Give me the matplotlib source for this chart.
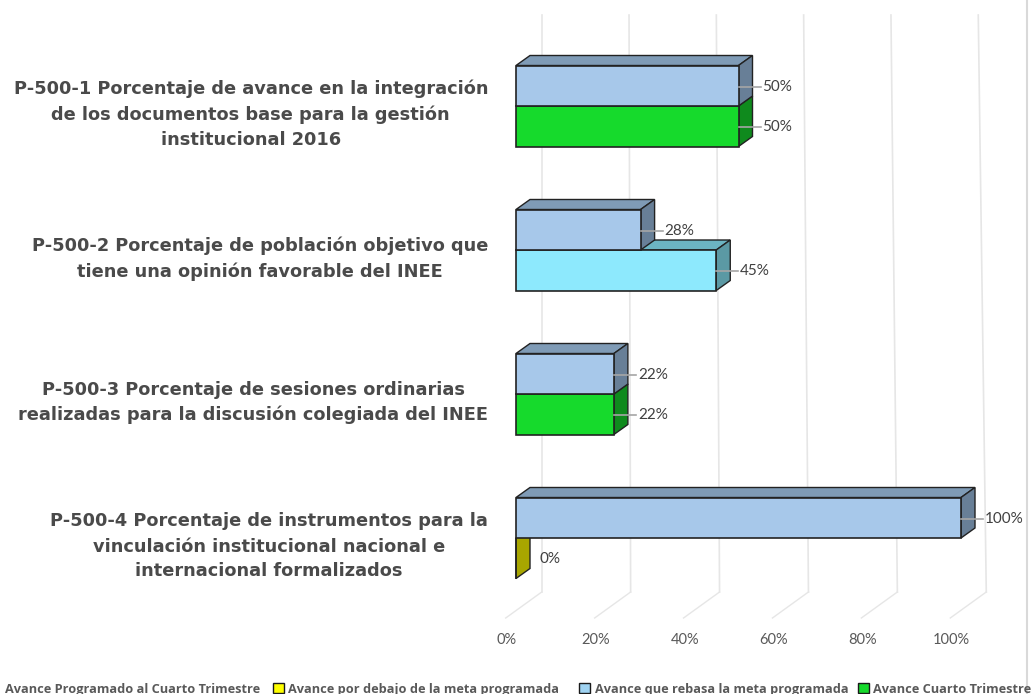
import matplotlib
matplotlib.use("Agg")
import matplotlib.pyplot as plt
from matplotlib.patches import Polygon, Rectangle
from matplotlib.lines import Line2D

# datos
categorias = [
    "P-500-1 Porcentaje de avance en la integración\nde los documentos base para la gestión\ninstitucional 2016",
    "P-500-2 Porcentaje de población objetivo que\ntiene una opinión favorable del INEE",
    "P-500-3 Porcentaje de sesiones ordinarias\nrealizadas para la discusión colegiada del INEE",
    "P-500-4 Porcentaje de instrumentos para la\nvinculación institucional nacional e\ninternacional formalizados",
]
programado = [50, 28, 22, 100]
avance = [50, 45, 22, 0]
ticks = [0, 20, 40, 60, 80, 100]
leyenda = ["Avance Programado al Cuarto Trimestre",
           "Avance por debajo de la meta programada",
           "Avance que rebasa la meta programada",
           "Avance Cuarto Trimestre"]

# colores (frente, arriba, lado)
caras = {
    "prog": ("#A7C8EA", "#7F9BB6", "#687F97"),
    "debajo": ("#FFFF00", "#C8C800", "#A8A600"),
    "rebasa": ("#8DE9FD", "#6CB4C2", "#5B99A4"),
    "igual": ("#16DA2C", "#12A823", "#0F8A1D"),
}
borde = "#222222"

W, H = 1031, 694
fig = plt.figure(figsize=(W / 100, H / 100), dpi=100)
ax = fig.add_axes([0, 0, 1, 1])
# px -> datos: x = 516 + 4.45*v ; y = 106 + 144*k
sx, sy = 4.45, 144.0
ax.set_xlim(-516 / sx, (W - 516) / sx)
ax.set_ylim((H - 106) / sy, -106 / sy)
ax.axis("off")

def px(p):
    return p / sx

def py(p):
    return (p - 106) / sy

dx, dy = 14 / sx, -10 / sy
h = 40.5 / sy

# pared con lineas de cuadricula y piso
for t in ticks:
    xt = 5.78 + t * 0.981
    xb = 5.78 + t * 0.999
    ax.plot([xt, xb], [py(15), py(592)], color="#E6E6E6", lw=1.2, zorder=1)
    ax.plot([xb, xb - px(36)], [py(592), py(618)], color="#E6E6E6", lw=1.0, zorder=1)
    ax.text(-2.02 + t * 0.998, py(640), f"{t}%", ha="center", va="center",
            fontsize=10.5, color="#595959", family=["Lato", "DejaVu Sans"])


def barra3d(y0, val, col, z):
    fr, up, sd = col
    ax.barh(y0 + h / 2, val, height=h, left=0, color=fr, edgecolor=borde,
            lw=1.2, zorder=z + 0.2)
    top = [(0, y0), (val, y0), (val + dx, y0 + dy), (dx, y0 + dy)]
    side = [(val, y0), (val + dx, y0 + dy), (val + dx, y0 + h + dy), (val, y0 + h)]
    ax.add_patch(Polygon(top, closed=True, fc=up, ec=borde, lw=1.0, zorder=z))
    ax.add_patch(Polygon(side, closed=True, fc=sd, ec=borde, lw=1.0, zorder=z + 0.1))
    yc = y0 + h / 2 + 1 / sy
    if val > 0:
        ax.plot([val, val + px(22)], [yc, yc], color="#A6A6A6", lw=1.2, zorder=z + 0.3)
    ax.text(val + px(24), yc, f"{val}%", ha="left", va="center", fontsize=11,
            color="#404040", family=["Lato", "DejaVu Sans"], zorder=z + 0.4)


for k, (cat, p, a) in enumerate(zip(categorias, programado, avance)):
    if a > p:
        est = "rebasa"
    elif a < p:
        est = "debajo"
    else:
        est = "igual"
    barra3d(k, a, caras[est], 3)
    barra3d(k - h, p, caras["prog"], 5)
    ax.text(px(488 - 516), k + 8.5 / sy, cat, ha="right", va="center",
            multialignment="center", fontsize=12.8, fontweight="bold",
            color="#4A4A4A", family=["DejaVu Sans"], linespacing=1.5)

# leyenda
def fx(p):
    return p / W

def fy(p):
    return 1 - p / H

ley_txt = [5, 288, 595, 873]
ley_box = [None, ("#FFFF00", 273), ("#9FD3F2", 579), ("#16DA2C", 858)]
for txt, x0, bx in zip(leyenda, ley_txt, ley_box):
    fig.text(fx(x0), fy(693), txt, ha="left", va="baseline", fontsize=9.2,
             fontweight="bold", color="#595959", family=["Open Sans", "DejaVu Sans"])
    if bx is not None:
        fig.add_artist(Rectangle((fx(bx[1]), fy(693)), 11 / W, 10 / H,
                                 transform=fig.transFigure, fc=bx[0], ec="#1a1a1a", lw=1.0))

fig.add_artist(Line2D([fx(1027)] * 2, [0, 1], color="#D9D9D9", lw=1.5,
                      transform=fig.transFigure))

fig.savefig("out.png", dpi=100)
